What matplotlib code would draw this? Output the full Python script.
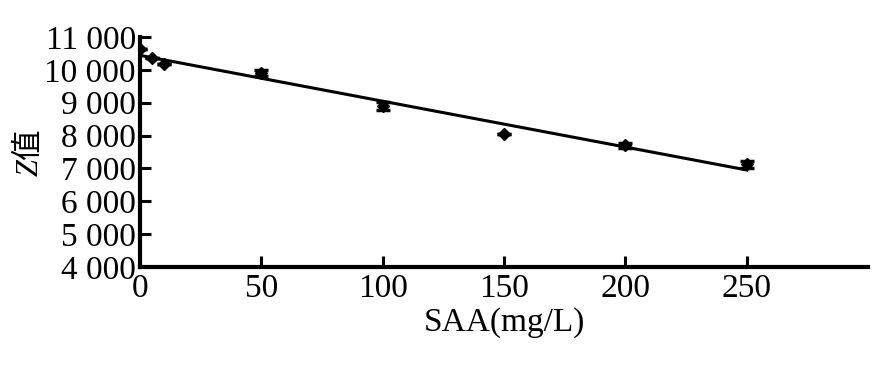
import numpy as np
import matplotlib
matplotlib.use('Agg')
import matplotlib.pyplot as plt
from matplotlib.ticker import FuncFormatter

plt.rcParams['font.family'] = ['Liberation Serif', 'Noto Sans CJK SC']

# data
saa = np.array([0, 5, 10, 50, 100, 150, 200, 250])
zval = np.array([10640, 10360, 10180, 9900, 8900, 8060, 7700, 7120])
zerr = np.array([0, 0, 0, 90, 110, 0, 80, 100])
xticks = [0, 50, 100, 150, 200, 250]
yticks = [4000, 5000, 6000, 7000, 8000, 9000, 10000, 11000]

# linear fit
k, b = np.polyfit(saa, zval, 1)
xfit = np.array([0, 250])

fig = plt.figure(figsize=(8.85, 3.66), dpi=100)
ax = fig.add_axes([140/885, 99/366, 728/885, 230/366])

ax.plot(xfit, k*xfit + b, color='black', lw=2.2)
ax.errorbar(saa, zval, yerr=zerr, fmt='D', color='black', ms=6.5,
            capsize=5, elinewidth=2, capthick=2.5)

ax.set_xlim(0, 300)
ax.set_ylim(4000, 11000)
ax.set_xticks(xticks)
ax.set_yticks(yticks)
ax.yaxis.set_major_formatter(FuncFormatter(lambda v, p: f'{int(v):,}'.replace(',', ' ')))

for s in ['top', 'right']:
    ax.spines[s].set_visible(False)
for s in ['left', 'bottom']:
    ax.spines[s].set_linewidth(3)
ax.tick_params(direction='in', length=8, width=2.2, labelsize=24)
ax.tick_params(axis='x', pad=5)
ax.tick_params(axis='y', pad=3)

ax.set_xlabel('SAA(mg/L)', fontsize=24, labelpad=2)
# italic Z; the CJK glyph falls back to the regular Noto face
ax.set_ylabel('Z值', fontsize=22, labelpad=0, style='italic')

fig.savefig('out.png', dpi=100)
